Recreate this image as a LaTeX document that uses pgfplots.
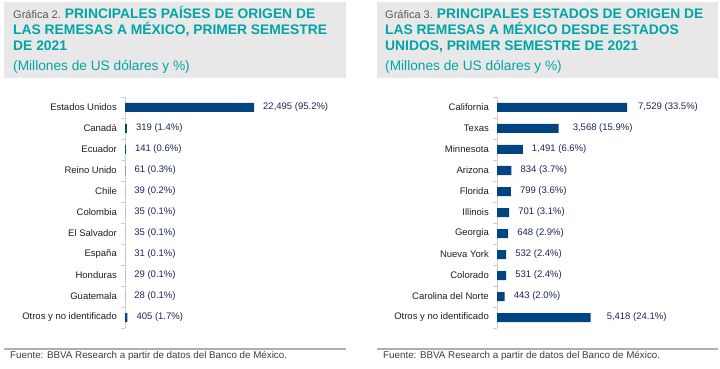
\documentclass[border=0pt]{standalone}
\usepackage{pgfplots}
\pgfplotsset{compat=1.18}
\usepackage{fontspec}
\setmainfont{Liberation Sans}
\definecolor{bbvablue}{RGB}{0,68,129}
\definecolor{tealt}{RGB}{2,165,165}
\definecolor{boxgray}{RGB}{232,232,232}
\definecolor{gtext}{RGB}{90,90,90}
\definecolor{ftext}{RGB}{60,60,60}
\definecolor{fline}{RGB}{175,175,175}
\definecolor{valc}{RGB}{25,40,80}
\definecolor{catc}{RGB}{30,30,30}
\definecolor{axc}{RGB}{205,205,205}
\newcommand{\tfont}{\fontsize{13.85}{15}\selectfont\bfseries}
\newcommand{\gfont}{\fontsize{11}{12}\selectfont}
\newcommand{\sfont}{\fontsize{13.7}{15}\selectfont}
\newcommand{\lfont}{\fontsize{9.5}{11}\selectfont}
\newcommand{\ffont}{\fontsize{9.8}{11}\selectfont}
\pgfplotsset{
  mybar/.style={
    scale only axis, anchor=south west,
    height=231pt,
    ymin=-0.5, ymax=10.5, y dir=reverse,
    axis x line=none, axis y line=left,
    y axis line style={-, draw=axc, line width=1pt},
    ytick={0,...,10},
    minor ytick={-0.5,0.5,...,10.5},
    major tick length=0pt, minor tick length=4pt,
    tick align=outside,
    minor tick style={draw=axc, line width=0.8pt},
    yticklabel style={font=\lfont, text=catc, anchor=east, inner sep=0pt, xshift=-8pt},
    clip=false,
    xbar, bar width=9pt,
    nodes near coords, point meta=explicit symbolic,
    nodes near coords style={font=\lfont, text=valc, anchor=west, inner sep=0pt, xshift=9pt},
  }
}
\begin{document}
\begin{tikzpicture}[x=1pt,y=1pt]
\useasboundingbox (0,0) rectangle (720,369);
% title boxes
\fill[boxgray] (4,291) rectangle (346,367);
\fill[boxgray] (377,291) rectangle (718,367);
% left title
\node[anchor=base west, inner sep=0pt] at (13,350) {{\gfont\color{gtext}Gráfica 2. }{\tfont\color{tealt}PRINCIPALES PAÍSES DE ORIGEN DE}};
\node[anchor=base west, inner sep=0pt, text=tealt] at (13,334) {\tfont LAS REMESAS A MÉXICO, PRIMER SEMESTRE};
\node[anchor=base west, inner sep=0pt, text=tealt] at (13,318) {\tfont DE 2021};
\node[anchor=base west, inner sep=0pt, text=tealt] at (13,298) {\sfont (Millones de US dólares y \%)};
% right title
\node[anchor=base west, inner sep=0pt] at (385,350) {{\gfont\color{gtext}Gráfica 3. }{\tfont\color{tealt}PRINCIPALES ESTADOS DE ORIGEN DE}};
\node[anchor=base west, inner sep=0pt, text=tealt] at (385,334) {\tfont LAS REMESAS A MÉXICO DESDE ESTADOS};
\node[anchor=base west, inner sep=0pt, text=tealt] at (385,318) {\tfont UNIDOS, PRIMER SEMESTRE DE 2021};
\node[anchor=base west, inner sep=0pt, text=tealt] at (385,298) {\sfont (Millones de US dólares y \%)};
% footers
\draw[fline, line width=1.5pt] (4,20) -- (346,20);
\draw[fline, line width=1.5pt] (377,20) -- (718,20);
\node[anchor=base west, inner sep=0pt, text=ftext] at (10,10) {\ffont Fuente: BBVA Research a partir de datos del Banco de México.};
\node[anchor=base west, inner sep=0pt, text=ftext] at (383,10) {\ffont Fuente: BBVA Research a partir de datos del Banco de México.};

\begin{axis}[mybar, at={(125pt,41pt)}, width=215pt, xmin=0, xmax=37492,
  yticklabels={Estados Unidos, Canadá, Ecuador, Reino Unido, Chile, Colombia, El Salvador, España, Honduras, Guatemala, Otros y no identificado}]
\addplot[fill=bbvablue, draw=none] coordinates {
(22495,0) [22,495 (95.2\%)]
(319,1) [319 (1.4\%)]
(141,2) [141 (0.6\%)]
(61,3) [61 (0.3\%)]
(39,4) [39 (0.2\%)]
(35,5) [35 (0.1\%)]
(35,6) [35 (0.1\%)]
(31,7) [31 (0.1\%)]
(29,8) [29 (0.1\%)]
(28,9) [28 (0.1\%)]
(405,10) [405 (1.7\%)]
};
\end{axis}

\begin{axis}[mybar, at={(497pt,41pt)}, width=218pt, xmin=0, xmax=12625,
  yticklabels={California, Texas, Minnesota, Arizona, Florida, Illinois, Georgia, Nueva York, Colorado, Carolina del Norte, Otros y no identificado}]
\addplot[fill=bbvablue, draw=none] coordinates {
(7529,0) [\hspace{2pt}7,529 (33.5\%)]
(3568,1) [\hspace{5pt}3,568 (15.9\%)]
(1491,2) [1,491 (6.6\%)]
(834,3) [834 (3.7\%)]
(799,4) [799 (3.6\%)]
(701,5) [701 (3.1\%)]
(648,6) [648 (2.9\%)]
(532,7) [532 (2.4\%)]
(531,8) [531 (2.4\%)]
(443,9) [443 (2.0\%)]
(5418,10) [\hspace{7pt}5,418 (24.1\%)]
};
\end{axis}
\end{tikzpicture}
\end{document}
